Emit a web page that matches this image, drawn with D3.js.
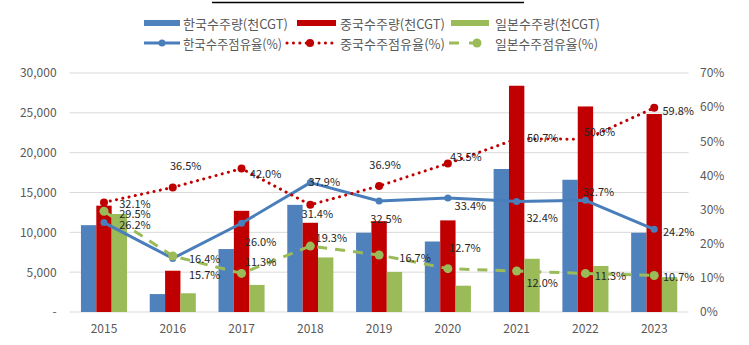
<!DOCTYPE html>
<html><head><meta charset="utf-8">
<script src="https://cdn.jsdelivr.net/npm/d3@7"></script>
<style>body{margin:0;background:#fff}svg{display:block}</style>
</head><body>
<svg id="c" width="749" height="345"></svg>
<script>
// ---- data ----
const years = ["2015","2016","2017","2018","2019","2020","2021","2022","2023"];
const koreaOrders = [10900, 2250, 7900, 13450, 9950, 8850, 17950, 16600, 9950];
const chinaOrders = [13350, 5180, 12700, 11200, 11400, 11500, 28400, 25800, 24850];
const japanOrders = [12300, 2350, 3400, 6850, 5030, 3300, 6680, 5780, 4380];
const koreaShare = [26.2, 15.7, 26.0, 37.9, 32.5, 33.4, 32.4, 32.7, 24.2];
const chinaShare = [32.1, 36.5, 42.0, 31.4, 36.9, 43.5, 50.7, 50.6, 59.8];
const japanShare = [29.5, 16.4, 11.3, 19.3, 16.7, 12.7, 12.0, 11.3, 10.7];
const leftTicks = [0, 5000, 10000, 15000, 20000, 25000, 30000];
const rightTicks = [0, 10, 20, 30, 40, 50, 60, 70];
const barNames = ["한국수주량(천CGT)", "중국수주량(천CGT)", "일본수주량(천CGT)"];
const lineNames = ["한국수주점유율(%)", "중국수주점유율(%)", "일본수주점유율(%)"];

// ---- layout / style ----
const C = {blue:"#4F81BD", red:"#C00000", green:"#9BBB59", blueLine:"#4A7EBB"};
const L = 69.6, R = 688.6, T = 73, B = 312;
const svg = d3.select("#c");
const font = "'Noto Sans CJK KR','Noto Sans',sans-serif";

const x0 = d3.scaleBand().domain(years).range([L, R]);
const bw = x0.bandwidth();
const x1 = d3.scaleBand().domain([0,1,2]).range([bw*0.165, bw*0.835]);
const yL = d3.scaleLinear().domain([0, 30000]).range([B, T]);
const yR = d3.scaleLinear().domain([0, 70]).range([B, T]);
const cx = d => x0(d) + bw/2;

// top rule
svg.append("line").attr("x1",212).attr("x2",524).attr("y1",2.5).attr("y2",2.5)
  .attr("stroke","#000").attr("stroke-width",1.3);

// gridlines
svg.append("g").selectAll("line").data(leftTicks).join("line")
  .attr("x1", L).attr("x2", R).attr("y1", d=>yL(d)).attr("y2", d=>yL(d))
  .attr("stroke", "#D9D9D9").attr("stroke-width", 1);

// left axis
const axL = d3.axisLeft(yL).tickValues(leftTicks).tickSize(0).tickPadding(0)
  .tickFormat(d => d === 0 ? "-" : d3.format(",")(d));
const gL = svg.append("g").attr("transform", `translate(${L-13},0)`).call(axL);
gL.select(".domain").remove();
gL.selectAll("text").attr("fill","#595959").style("font-family",font).style("font-size","12px");

// right axis
const axR = d3.axisRight(yR).tickValues(rightTicks).tickSize(0).tickPadding(0)
  .tickFormat(d => d + "%");
const gR = svg.append("g").attr("transform", `translate(700,0)`).call(axR);
gR.select(".domain").remove();
gR.selectAll("text").attr("fill","#595959").style("font-family",font).style("font-size","12px");

// bottom axis
const axB = d3.axisBottom(x0).tickSize(0).tickPadding(0);
const gB = svg.append("g").attr("transform", `translate(0,${B+12})`).call(axB);
gB.select(".domain").remove();
gB.selectAll("text").attr("fill","#595959").style("font-family",font).style("font-size","12px");

// bars
const barSeries = [koreaOrders, chinaOrders, japanOrders];
const barColors = [C.blue, C.red, C.green];
barSeries.forEach((vals, si) => {
  svg.append("g").selectAll("rect").data(vals).join("rect")
    .attr("x", (d,i) => x0(years[i]) + x1(si))
    .attr("width", x1.bandwidth())
    .attr("y", d => yL(d))
    .attr("height", d => B - yL(d))
    .attr("fill", barColors[si]);
});

// lines
const line = d3.line().x((d,i)=>cx(years[i])).y(d=>yR(d));
const lineDefs = [
  {vals: koreaShare, color: C.blueLine, dash: null, cap:"butt", w:3, r:3.5},
  {vals: chinaShare, color: C.red, dash: "0.1 6.3", cap:"round", w:3, r:4},
  {vals: japanShare, color: C.green, dash: "10 8", cap:"butt", w:3, r:4.5}
];
lineDefs.forEach(s => {
  svg.append("path").datum(s.vals).attr("d", line).attr("fill","none")
    .attr("stroke", s.color).attr("stroke-width", s.w)
    .attr("stroke-linecap", s.cap).attr("stroke-linejoin","round")
    .attr("stroke-dasharray", s.dash);
  svg.append("g").selectAll("circle").data(s.vals).join("circle")
    .attr("cx",(d,i)=>cx(years[i])).attr("cy", d=>yR(d)).attr("r", s.r)
    .attr("fill", s.color);
});

// data labels (offsets of label centre from point, per point)
const labelOffsets = [
  // korea
  [[31,1.5],[32,16],[19,17.5],[14,-1.5],[7,17],[22.5,7],[25.5,16],[13,-9],[24.5,1.3]],
  // china
  [[31,0.5],[13,-22],[24,4],[7,8],[6,-22],[18,-7],[26,-2],[14,-8],[24,2]],
  // japan
  [[31,1.5],[32,2],[19,-12.7],[21,-9],[36,1.7],[17,-22],[25.5,10.7],[25,1.6],[24.5,1]]
];
lineDefs.forEach((s, si) => {
  svg.append("g").selectAll("text").data(s.vals).join("text")
    .attr("x",(d,i)=>cx(years[i]) + labelOffsets[si][i][0])
    .attr("y",(d,i)=>yR(d) + labelOffsets[si][i][1])
    .attr("text-anchor","middle").attr("dominant-baseline","central")
    .attr("fill","#262626").style("font-family",font).style("font-size","11px")
    .text(d => d.toFixed(1) + "%");
});

// legend
const lg = svg.append("g").style("font-family",font).style("font-size","13px").attr("fill","#595959");
const colX = [[144,180,183],[297,336,340],[451,489,495]];
barNames.forEach((n,i) => {
  lg.append("rect").attr("x",colX[i][0]).attr("y",20).attr("width",colX[i][1]-colX[i][0]).attr("height",6)
    .attr("fill", barColors[i]);
  lg.append("text").attr("x",colX[i][2]).attr("y",23).attr("dominant-baseline","central")
    .attr("textLength",105).attr("lengthAdjust","spacingAndGlyphs").text(n);
});
const lx = [[144,180,162],[287,332,310],[449,489,477]];
lineNames.forEach((n,i) => {
  const s = lineDefs[i];
  lg.append("line").attr("x1",lx[i][0]).attr("x2",lx[i][1]).attr("y1",43).attr("y2",43)
    .attr("stroke",s.color).attr("stroke-width",3).attr("stroke-linecap",s.cap)
    .attr("stroke-dasharray", i===2 ? "10 10" : s.dash);
  lg.append("circle").attr("cx",lx[i][2]).attr("cy",43).attr("r",s.r).attr("fill",s.color);
  lg.append("text").attr("x",colX[i][2]).attr("y",43).attr("dominant-baseline","central")
    .attr("textLength",i===0?99:(i===1?105:103)).attr("lengthAdjust","spacingAndGlyphs").text(n);
});
</script>
</body></html>
